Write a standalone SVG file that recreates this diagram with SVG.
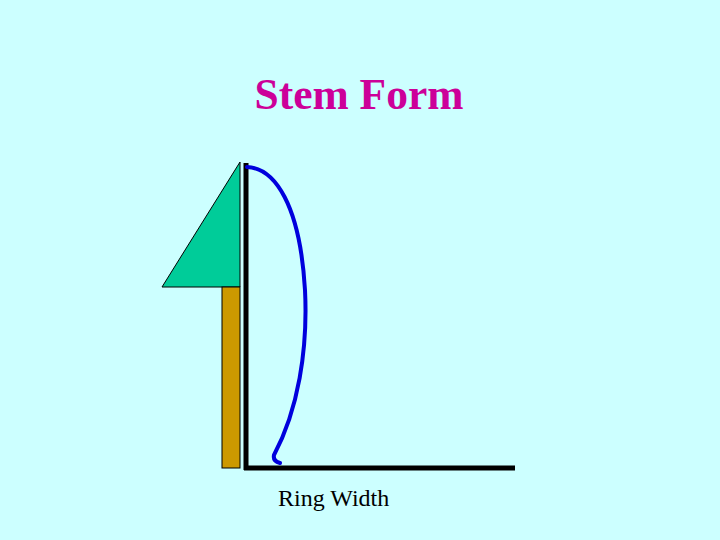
<svg xmlns="http://www.w3.org/2000/svg" width="720" height="540" viewBox="0 0 720 540">
<style>
.title{font-family:"Liberation Serif","Times New Roman",serif;font-weight:bold;font-size:43.5px;fill:#CC0099}
.label{font-family:"Liberation Serif","Times New Roman",serif;font-size:24px;fill:#000}
</style>
<rect width="720" height="540" fill="#CCFFFF"/>
<text class="title" x="359" y="109" text-anchor="middle">Stem Form</text>
<g id="crown"><polygon points="240,162 162,287 240,287" fill="#00CC99" stroke="#000" stroke-width="1"/></g>
<g id="trunk"><rect x="222" y="287" width="18" height="181" fill="#CC9900" stroke="#000" stroke-width="1"/></g>
<g id="axes">
<line x1="246" y1="163" x2="246" y2="470" stroke="#000" stroke-width="5"/>
<line x1="244" y1="468" x2="515" y2="468" stroke="#000" stroke-width="5"/>
</g>
<g id="profile"><path d="M247,167 C275,168 300,205 305,290 C308,350 298,410 274,455 C273,460 276,462 280,463" fill="none" stroke="#0000DD" stroke-width="4" stroke-linecap="round"/></g>
<text class="label" x="278" y="506">Ring Width</text>
</svg>
